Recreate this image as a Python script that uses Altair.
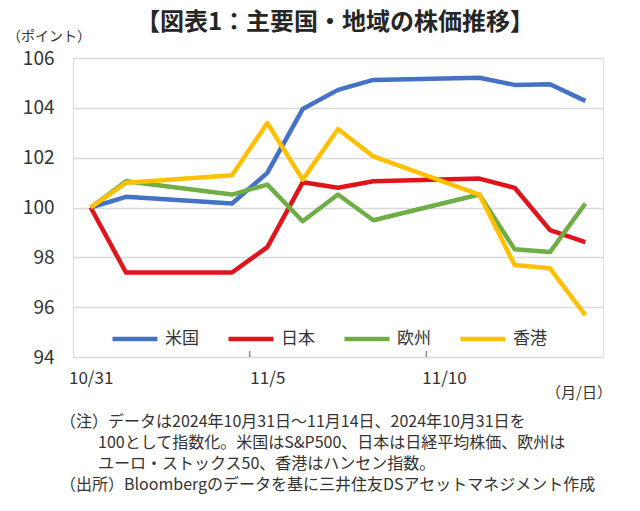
import altair as alt
import pandas as pd

FONT = "Noto Sans CJK JP"

dates = ["2024-10-31", "2024-11-01", "2024-11-04", "2024-11-05", "2024-11-06",
         "2024-11-07", "2024-11-08", "2024-11-11", "2024-11-12", "2024-11-13", "2024-11-14"]
regions = ["米国", "日本", "欧州", "香港"]
colors = ["#4472C4", "#E0141B", "#70AD47", "#FFC000"]

us = [100.0, 100.43, 100.16, 101.39, 103.95, 104.72, 105.12, 105.21, 104.92, 104.95, 104.28]
jp = [100.0, 97.39, 97.39, 98.41, 101.01, 100.79, 101.05, 101.16, 100.79, 99.09, 98.61]
eu = [100.0, 101.05, 100.52, 100.92, 99.45, 100.52, 99.49, 100.52, 98.32, 98.21, 100.16]
hk = [100.0, 100.99, 101.29, 103.39, 101.12, 103.15, 102.05, 100.52, 97.69, 97.56, 95.68]

y_ticks = [94, 96, 98, 100, 102, 104, 106]
x_label_dates = ["2024-10-31", "2024-11-05", "2024-11-10"]
x_tick_marks = ["2024-11-04T12:00:00Z", "2024-11-09T12:00:00Z"]
x_domain = ["2024-10-30T12:00:00Z", "2024-11-14T12:00:00Z"]

title_text = "【図表1：主要国・地域の株価推移】"
y_unit = "（ポイント）"
x_unit = "（月/日）"
note_lines = [
    "（注）データは2024年10月31日～11月14日、2024年10月31日を",
    "100として指数化。米国はS&P500、日本は日経平均株価、欧州は",
    "ユーロ・ストックス50、香港はハンセン指数。",
    "（出所）Bloombergのデータを基に三井住友DSアセットマネジメント作成",
]

rows = []
for name, series in zip(regions, [us, jp, eu, hk]):
    for d, v in zip(dates, series):
        rows.append({"date": d, "region": name, "value": v})
df = pd.DataFrame(rows)

W, H = 530, 299

def dt(s):
    y, m, d = s.split("-")
    return alt.DateTime(year=int(y), month=int(m), date=int(d), utc=True)

xscale = alt.Scale(type="utc", domain=x_domain)

lines = alt.Chart(df).mark_line(strokeWidth=4.5, strokeJoin="round").encode(
    x=alt.X("date:T", scale=xscale,
            axis=alt.Axis(values=[dt(s) for s in x_label_dates], format="%-m/%-d",
                          title=None, grid=False, ticks=False, domain=False,
                          labelFont=FONT, labelFontSize=17, labelColor="#333333",
                          labelPadding=13)),
    y=alt.Y("value:Q", scale=alt.Scale(domain=[94, 106], nice=False, zero=False),
            axis=alt.Axis(values=y_ticks, title=None, ticks=False, domain=False,
                          grid=True, gridColor="#d9d9d9", gridWidth=1.5,
                          labelFont=FONT, labelFontSize=19, labelColor="#333333",
                          labelPadding=19)),
    color=alt.Color("region:N", sort=regions,
                    scale=alt.Scale(domain=regions, range=colors),
                    legend=alt.Legend(title=None, orient="none", legendX=37, legendY=256,
                                      direction="horizontal", columns=4,
                                      symbolType="stroke", symbolSize=2025,
                                      symbolStrokeWidth=4.5, labelFont=FONT,
                                      labelFontSize=17, labelColor="#333333",
                                      labelOffset=5, columnPadding=20)),
)

ticks_df = pd.DataFrame({"t": x_tick_marks})
tick_rules = alt.Chart(ticks_df).mark_rule(color="#8c8c8c", strokeWidth=1.5).encode(
    x=alt.X("t:T", scale=xscale),
    y=alt.value(H - 6),
    y2=alt.value(H),
)

def text_layer(txt, x, y, size, align="left", weight="normal", color="#333333"):
    return alt.Chart(pd.DataFrame({"t": [txt]})).mark_text(
        font=FONT, fontSize=size, align=align, baseline="middle",
        fontWeight=weight, color=color
    ).encode(text="t:N", x=alt.value(x), y=alt.value(y))

texts = [
    text_layer(title_text, 262, -35, 24, align="center", weight="bold", color="#262626"),
    text_layer(y_unit, -66, -21, 14),
    text_layer(x_unit, 539, 335, 15, align="right"),
    text_layer(note_lines[0], -13, 364, 16),
    text_layer(note_lines[1], 25, 385, 16),
    text_layer(note_lines[2], 25, 406, 16),
    text_layer(note_lines[3], -13, 427, 16),
]

chart = alt.layer(lines, tick_rules, *texts).properties(
    width=W, height=H,
    autosize=alt.AutoSizeParams(type="none"),
    padding={"left": 65, "top": 50, "right": 29, "bottom": 146},
).configure_view(stroke="#8c8c8c", strokeWidth=1.5).configure(background="white")

chart.save("out.html", embed_options={"renderer": "svg", "actions": False})
